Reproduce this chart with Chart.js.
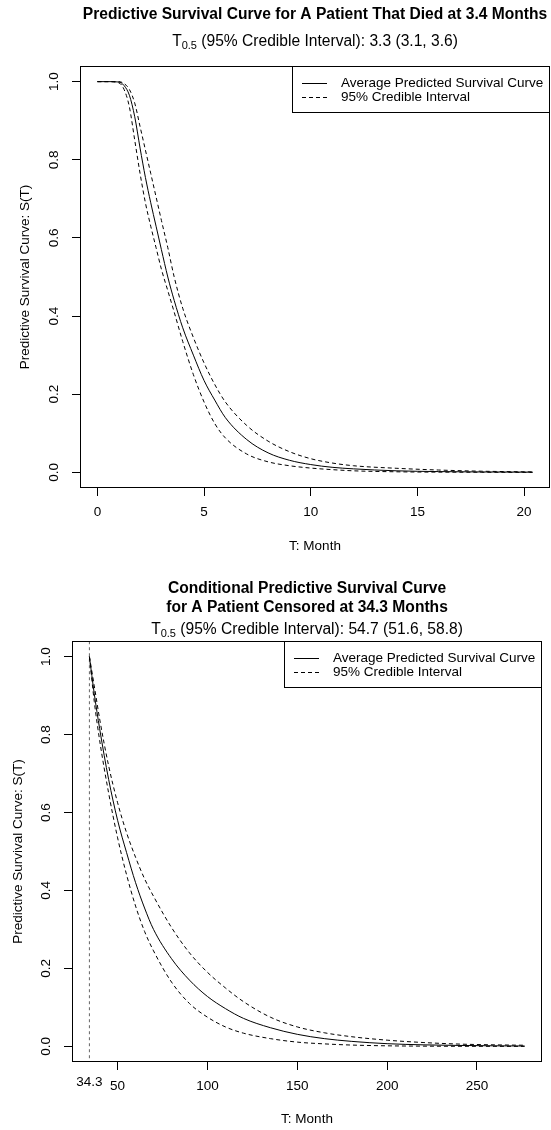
<!DOCTYPE html>
<html>
<head>
<meta charset="utf-8">
<script src="https://cdn.jsdelivr.net/npm/chart.js@4.4.1/dist/chart.umd.min.js"></script>
<style>
  html, body { margin: 0; padding: 0; background: #fff; }
  .panel { width: 551px; height: 565px; }
  canvas { display: block; }
</style>
</head>
<body>
<div class="panel"><canvas id="diedChart" width="551" height="565"></canvas></div>
<div class="panel"><canvas id="censoredChart" width="551" height="565"></canvas></div>
<script>
// ---- patient who died ----
var deathMonth = 3.4;
var diedMedian = [3.3, 3.1, 3.6];   // T0.5, lower, upper
var diedMonths = [0, 0.5, 1, 1.25, 1.5, 1.75, 2, 2.25, 2.5, 2.75, 3, 3.3, 3.6, 4, 4.5, 5, 5.5, 6, 7, 8, 9, 10, 11, 12, 14, 16, 18, 20.4];
var diedMean  = [1, 1, 0.999, 0.99, 0.965, 0.91, 0.83, 0.755, 0.69, 0.63, 0.57, 0.5, 0.44, 0.37, 0.3, 0.235, 0.185, 0.14, 0.084, 0.05, 0.031, 0.02, 0.013, 0.009, 0.004, 0.002, 0.001, 0.0005];
var diedLower = [1, 1, 0.997, 0.98, 0.935, 0.85, 0.765, 0.69, 0.63, 0.575, 0.52, 0.465, 0.41, 0.335, 0.25, 0.18, 0.125, 0.088, 0.047, 0.027, 0.017, 0.011, 0.007, 0.004, 0.0015, 0.0006, 0.0003, 0.0001];
var diedUpper = [1, 1, 1, 0.995, 0.98, 0.945, 0.885, 0.825, 0.765, 0.705, 0.645, 0.575, 0.5, 0.42, 0.345, 0.28, 0.225, 0.18, 0.12, 0.08, 0.053, 0.035, 0.024, 0.017, 0.0105, 0.006, 0.003, 0.0012];
var diedTicks = [0, 5, 10, 15, 20];

// ---- patient censored ----
var censorMonth = 34.3;
var censMedian = [54.7, 51.6, 58.8];
var censMonths = [34.3, 37, 40, 45, 50, 55, 60, 65, 70, 80, 90, 100, 110, 120, 135, 150, 165, 180, 200, 220, 240, 260, 276.5];
var censMean  = [1, 0.905, 0.815, 0.685, 0.58, 0.497, 0.42, 0.355, 0.3, 0.225, 0.17, 0.128, 0.097, 0.072, 0.048, 0.031, 0.02, 0.013, 0.007, 0.004, 0.0025, 0.0015, 0.001];
var censLower = [1, 0.885, 0.785, 0.65, 0.535, 0.44, 0.36, 0.295, 0.245, 0.165, 0.11, 0.075, 0.05, 0.034, 0.02, 0.011, 0.0065, 0.0035, 0.0015, 0.0007, 0.0003, 0.0002, 0.0001];
var censUpper = [1, 0.925, 0.84, 0.72, 0.625, 0.548, 0.485, 0.43, 0.385, 0.305, 0.24, 0.19, 0.15, 0.115, 0.075, 0.05, 0.035, 0.025, 0.016, 0.01, 0.006, 0.004, 0.003];
var censTicks = [50, 100, 150, 200, 250];

var survTicks = [0, 0.2, 0.4, 0.6, 0.8, 1.0];
var legendText = ['Average Predicted Survival Curve', '95% Credible Interval'];

var FONT = '"Liberation Sans", Arial, Helvetica, sans-serif';
var BASE = 13.5;
var DASH = [4, 3];
Chart.defaults.font.family = FONT;
Chart.defaults.font.size = BASE;
Chart.defaults.color = '#000';

function pairs(xs, ys) {
  return xs.map(function (x, i) { return { x: x, y: ys[i] }; });
}

// axis range padded by 4% on each side
function padRange(lo, hi) {
  var d = (hi - lo) * 0.04;
  return [lo - d, hi + d];
}

function fmt(v) { return v.toFixed(1); }

// frame, titles and legend drawn around the plot region
var frame = {
  id: 'frame',
  afterDraw: function (chart, args, o) {
    var ctx = chart.ctx, a = chart.chartArea;
    var cx = (a.left + a.right) / 2;
    ctx.save();

    ctx.strokeStyle = '#000';
    ctx.lineWidth = 1;
    ctx.strokeRect(Math.round(a.left) + 0.5, Math.round(a.top) + 0.5,
      Math.round(a.right - a.left) - 1, Math.round(a.bottom - a.top) - 1);

    ctx.fillStyle = '#000';
    ctx.textAlign = 'center';
    ctx.textBaseline = 'middle';
    ctx.font = 'bold 15.6px ' + FONT;
    o.title.forEach(function (t, i) { ctx.fillText(t, cx, o.titleY[i]); });

    // T with subscript 0.5
    var big = '15.6px ' + FONT, small = '11px ' + FONT;
    ctx.font = big;
    var wT = ctx.measureText('T').width, wRest = ctx.measureText(o.subtitle).width;
    ctx.font = small;
    var wSub = ctx.measureText('0.5').width;
    var x = cx - (wT + wSub + wRest) / 2;
    ctx.textAlign = 'left';
    ctx.font = big;
    ctx.fillText('T', x, o.subY);
    ctx.font = small;
    ctx.fillText('0.5', x + wT, o.subY + 4);
    ctx.font = big;
    ctx.fillText(o.subtitle, x + wT + wSub, o.subY);

    // extra month label under the axis, no tick mark
    if (o.markMonth !== undefined) {
      ctx.font = BASE + 'px ' + FONT;
      ctx.textAlign = 'center';
      ctx.fillText(String(o.markMonth), chart.scales.x.getPixelForValue(o.markMonth), a.bottom + 20);
      ctx.textAlign = 'left';
    }

    // legend box, top right
    ctx.font = BASE + 'px ' + FONT;
    var tw = Math.max.apply(null, legendText.map(function (t) { return ctx.measureText(t).width; }));
    var lw = Math.round(49 + tw + 7), lh = 47;
    var lx = Math.round(a.right) - lw, ly = Math.round(a.top);
    ctx.fillStyle = '#fff';
    ctx.fillRect(lx, ly, lw, lh);
    ctx.strokeRect(lx + 0.5, ly + 0.5, lw - 1, lh - 1);
    ctx.fillStyle = '#000';
    legendText.forEach(function (t, i) {
      var y = ly + 17 + i * 14;
      ctx.beginPath();
      ctx.setLineDash(i === 0 ? [] : DASH);
      ctx.moveTo(lx + 10, Math.round(y) + 0.5);
      ctx.lineTo(lx + 35, Math.round(y) + 0.5);
      ctx.stroke();
      ctx.setLineDash([]);
      ctx.fillText(t, lx + 49, y);
    });
    ctx.restore();
  }
};

function curveSets(months, mean, lower, upper) {
  var base = { borderColor: '#000', borderWidth: 1, pointRadius: 0, fill: false, cubicInterpolationMode: 'monotone' };
  return [
    Object.assign({ label: legendText[0], data: pairs(months, mean) }, base),
    Object.assign({ label: legendText[1], data: pairs(months, lower), borderDash: DASH }, base),
    Object.assign({ label: legendText[1], data: pairs(months, upper), borderDash: DASH }, base)
  ];
}

function makeOptions(cfg) {
  var xr = padRange(cfg.months[0], cfg.months[cfg.months.length - 1]);
  var yr = padRange(0, 1);
  return {
    responsive: false,
    animation: false,
    devicePixelRatio: 1,
    layout: { padding: { top: cfg.top, right: 551 - cfg.right, bottom: 0, left: 0 } },
    plugins: {
      legend: { display: false },
      tooltip: { enabled: false },
      frame: { title: cfg.title, titleY: cfg.titleY, subtitle: cfg.subtitle, subY: cfg.subY, markMonth: cfg.markMonth }
    },
    scales: {
      x: {
        type: 'linear', min: xr[0], max: xr[1],
        afterBuildTicks: function (s) { s.ticks = cfg.ticks.map(function (v) { return { value: v }; }); },
        afterFit: function (s) { s.height = 565 - cfg.bottom; s.paddingLeft = 0; s.paddingRight = 0; },
        border: { display: false },
        grid: { drawOnChartArea: false, tickLength: 8, color: '#000' },
        ticks: { padding: 8, autoSkip: false, maxRotation: 0, callback: function (v) { return String(v); } },
        title: { display: true, text: 'T: Month', padding: { top: 0, bottom: cfg.xTitlePad } }
      },
      y: {
        type: 'linear', min: yr[0], max: yr[1],
        afterBuildTicks: function (s) { s.ticks = survTicks.map(function (v) { return { value: v }; }); },
        afterFit: function (s) { s.width = cfg.left; s.paddingTop = 0; s.paddingBottom = 0; },
        border: { display: false },
        grid: { drawOnChartArea: false, tickLength: 8, color: '#000' },
        ticks: { padding: 8, minRotation: 90, maxRotation: 90, crossAlign: 'center', callback: fmt },
        title: { display: true, text: 'Predictive Survival Curve: S(T)', padding: { top: cfg.yTitlePad, bottom: 0 } }
      }
    }
  };
}

new Chart(document.getElementById('diedChart'), {
  type: 'line',
  data: { datasets: curveSets(diedMonths, diedMean, diedLower, diedUpper) },
  options: makeOptions({
    months: diedMonths, ticks: diedTicks,
    left: 80, right: 550, top: 66, bottom: 488,
    xTitlePad: 11, yTitlePad: 17,
    title: ['Predictive Survival Curve for A Patient That Died at ' + deathMonth + ' Months'],
    titleY: [15],
    subtitle: ' (95% Credible Interval): ' + diedMedian[0] + ' (' + diedMedian[1] + ', ' + diedMedian[2] + ')',
    subY: 42
  }),
  plugins: [frame]
});

var censSets = curveSets(censMonths, censMean, censLower, censUpper);
censSets.push({
  label: 'censored', data: pairs([censorMonth, censorMonth], [-1, 2]),
  borderColor: '#666', borderWidth: 1, borderDash: [3, 3], pointRadius: 0, fill: false
});

new Chart(document.getElementById('censoredChart'), {
  type: 'line',
  data: { datasets: censSets },
  options: makeOptions({
    months: censMonths, ticks: censTicks,
    left: 72, right: 542, top: 76, bottom: 497,
    xTitlePad: 3, yTitlePad: 10,
    markMonth: censorMonth,
    title: ['Conditional Predictive Survival Curve', 'for A Patient Censored at ' + censorMonth + ' Months'],
    titleY: [24, 43],
    subtitle: ' (95% Credible Interval): ' + censMedian[0] + ' (' + censMedian[1] + ', ' + censMedian[2] + ')',
    subY: 65
  }),
  plugins: [frame]
});
</script>
</body>
</html>
